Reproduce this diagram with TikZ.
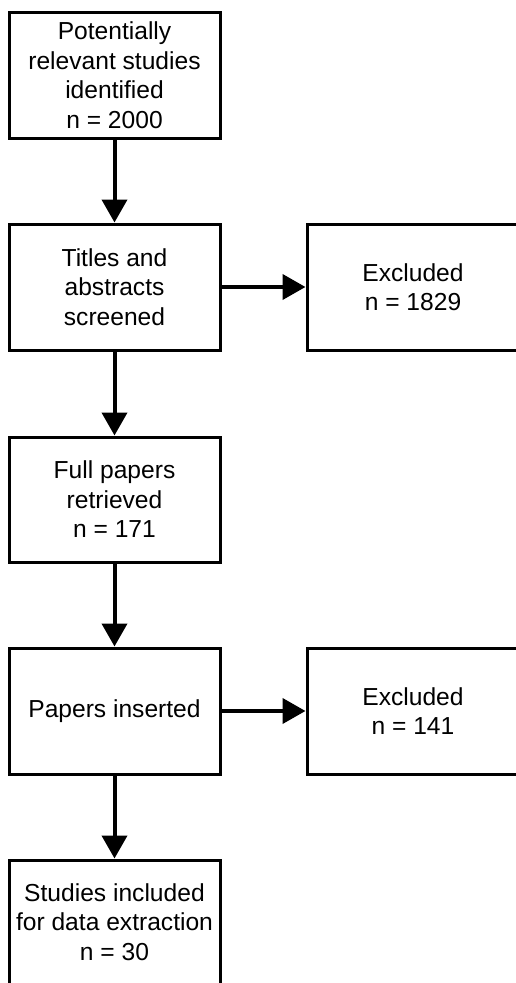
\documentclass[tikz,border=0pt]{standalone}
\usepackage{fontspec}
\setmainfont{Liberation Sans}
\usetikzlibrary{arrows.meta}
\begin{document}
\begin{tikzpicture}[x=1pt,y=-1pt,
  box/.style={draw=black, line width=3pt, minimum width=211pt, minimum height=126pt,
    inner sep=0pt, align=center, font=\fontsize{24.6pt}{29.5pt}\selectfont},
  arr/.style={line width=4pt, -{Triangle[length=23pt,width=25pt]}}]
\useasboundingbox (0,0) rectangle (516,983);
\node[box] (b1) at (114.5,75) {Potentially\\relevant studies\\identified\\n = 2000};
\node[box] (b2) at (114.5,287) {Titles and\\abstracts\\screened};
\node[box, minimum width=212pt] (r1) at (413,287) {Excluded\\n = 1829};
\node[box, minimum height=125pt] (b3) at (114.5,499.5) {Full papers\\retrieved\\n = 171};
\node[box] (b4) at (114.5,711) {Papers inserted};
\node[box, minimum width=212pt] (r2) at (413,711) {Excluded\\n = 141};
\node[box, minimum height=124pt] (b5) at (114.5,922) {Studies included\\for data extraction\\n = 30};
\draw[arr] (b1) -- (b2);
\draw[arr] (b2) -- (r1);
\draw[arr] (b2) -- (b3);
\draw[arr] (b3) -- (b4);
\draw[arr] (b4) -- (r2);
\draw[arr] (b4) -- (b5);
\end{tikzpicture}
\end{document}
